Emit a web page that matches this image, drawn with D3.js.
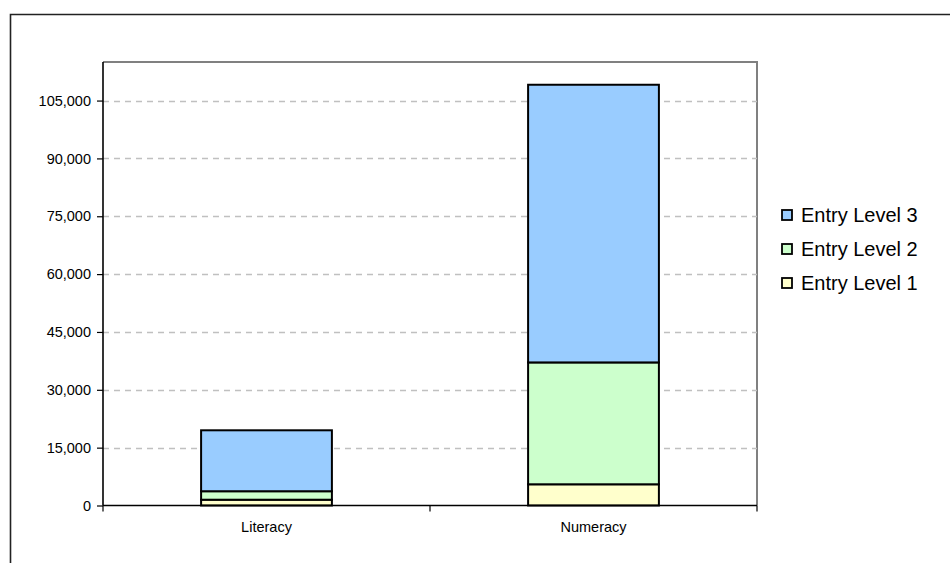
<!DOCTYPE html>
<html>
<head>
<meta charset="utf-8">
<script src="https://cdn.jsdelivr.net/npm/d3@7"></script>
<style>
  html, body { margin: 0; padding: 0; background: #fff; }
  svg { display: block; font-family: "Liberation Sans", Arial, sans-serif; }
</style>
</head>
<body>
<svg id="chart" width="950" height="563"></svg>
<script>
// Learners by subject and level
const categories = ["Literacy", "Numeracy"];
const seriesNames = ["Entry Level 1", "Entry Level 2", "Entry Level 3"];
const level1 = [1500, 5500];
const level2 = [2200, 31600];
const level3 = [15800, 72000];
const yTicks = [0, 15000, 30000, 45000, 60000, 75000, 90000, 105000];
const colors = ["#FFFFCC", "#CCFFCC", "#99CCFF"];

const rows = categories.map((c, i) => ({
  category: c,
  "Entry Level 1": level1[i],
  "Entry Level 2": level2[i],
  "Entry Level 3": level3[i]
}));

const svg = d3.select("#chart");
const plot = { left: 103, right: 757, top: 62, bottom: 505.5 };

// outer chart frame
svg.append("path")
  .attr("d", `M10.5,960 V14.5 H960`)
  .attr("fill", "none").attr("stroke", "#222").attr("stroke-width", 1.6);

const x = d3.scaleBand().domain(categories).range([plot.left, plot.right]).padding(0);
const y = d3.scaleLinear().domain([0, 115000]).range([plot.bottom, plot.top]);

// plot area border (top & right)
svg.append("path")
  .attr("d", `M${plot.left},${plot.top} H${plot.right} V${plot.bottom}`)
  .attr("fill", "none").attr("stroke", "#808080").attr("stroke-width", 2);

// horizontal dashed gridlines
svg.append("g").selectAll("line")
  .data(yTicks.filter(v => v > 0))
  .join("line")
  .attr("x1", plot.left).attr("x2", plot.right)
  .attr("y1", d => Math.round(y(d)) + 0.5).attr("y2", d => Math.round(y(d)) + 0.5)
  .attr("stroke", "#c0c0c0").attr("stroke-width", 1.3)
  .attr("stroke-dasharray", "6,5");

// stacked bars
const stack = d3.stack().keys(seriesNames);
const layers = stack(rows);
const barW = x.bandwidth() * 0.4;

svg.append("g").selectAll("g")
  .data(layers)
  .join("g")
  .attr("fill", (d, i) => colors[i])
  .selectAll("rect")
  .data(d => d)
  .join("rect")
  .attr("x", d => x(d.data.category) + (x.bandwidth() - barW) / 2)
  .attr("width", barW)
  .attr("y", d => y(d[1]))
  .attr("height", d => y(d[0]) - y(d[1]))
  .attr("stroke", "#000").attr("stroke-width", 2);

// y axis
const yAxis = d3.axisLeft(y).tickValues(yTicks).tickFormat(d3.format(",")).tickSize(6).tickPadding(6);
const gy = svg.append("g").attr("transform", `translate(${plot.left},0)`).call(yAxis);
gy.select(".domain").attr("stroke", "#000").attr("stroke-width", 1.6)
  .attr("d", `M0,${plot.top}V${plot.bottom}`);
gy.selectAll(".tick line").attr("stroke", "#000").attr("stroke-width", 1.2);
gy.selectAll(".tick text").attr("font-size", "14.5px").attr("fill", "#000")
  .attr("font-family", "'Liberation Sans', Arial, sans-serif");

// x axis with category boundary ticks
const gx = svg.append("g");
gx.append("line")
  .attr("x1", plot.left).attr("x2", plot.right)
  .attr("y1", plot.bottom).attr("y2", plot.bottom)
  .attr("stroke", "#000").attr("stroke-width", 1.6);
const boundaries = [plot.left].concat(categories.map(c => x(c) + x.bandwidth()));
gx.selectAll("line.tk").data(boundaries).join("line")
  .attr("class", "tk")
  .attr("x1", d => d).attr("x2", d => d)
  .attr("y1", plot.bottom).attr("y2", plot.bottom + 6)
  .attr("stroke", "#000").attr("stroke-width", 1.2);
gx.selectAll("text").data(categories).join("text")
  .attr("x", d => x(d) + x.bandwidth() / 2)
  .attr("y", 532)
  .attr("text-anchor", "middle")
  .attr("font-size", "14.5px")
  .attr("fill", "#000")
  .text(d => d);

// legend (top level first)
const legendItems = seriesNames.map((n, i) => ({ name: n, color: colors[i] })).reverse();
const lg = svg.append("g").selectAll("g").data(legendItems).join("g")
  .attr("transform", (d, i) => `translate(782,${210 + i * 34})`);
lg.append("rect").attr("width", 10).attr("height", 10)
  .attr("fill", d => d.color).attr("stroke", "#000").attr("stroke-width", 1.8);
lg.append("text").attr("x", 19).attr("y", 12)
  .attr("font-size", "20px").attr("fill", "#000")
  .text(d => d.name);
</script>
</body>
</html>
